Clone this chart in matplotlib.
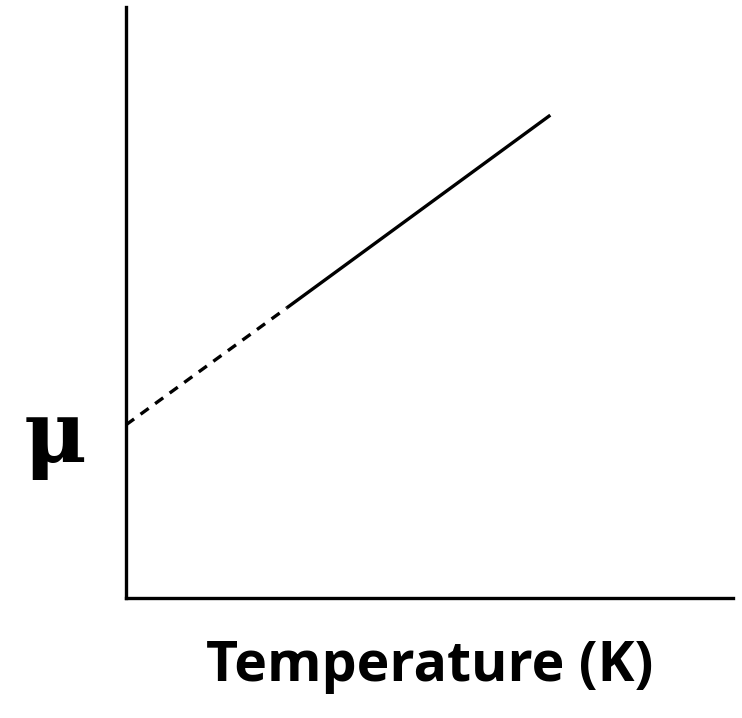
import matplotlib
matplotlib.use("Agg")
import matplotlib.pyplot as plt

# data (arbitrary units)
dashed_x = [0.0, 26.5]
dashed_y = [29.3, 49.1]
solid_x = [26.5, 69.9]
solid_y = [49.1, 81.7]
xlabel = "Temperature (K)"
ylabel = "\u03bc"

fig = plt.figure(figsize=(7.42, 7.18), dpi=100)
ax = fig.add_axes([126/742, 120/718, 607/742, 591/718])
ax.set_xlim(0, 100)
ax.set_ylim(0, 100)
ax.plot(dashed_x, dashed_y, color="black", lw=2.4, linestyle=(0, (3, 2.4)), solid_capstyle="butt", clip_on=False)
ax.plot(solid_x, solid_y, color="black", lw=2.4, solid_capstyle="butt")
for s in ["top", "right"]:
    ax.spines[s].set_visible(False)
for s in ["left", "bottom"]:
    ax.spines[s].set_linewidth(2.4)
ax.set_xticks([])
ax.set_yticks([])
fig.text(55/742, 1 - 438/718, ylabel, fontsize=62, fontweight="bold", family="DejaVu Serif",
         ha="center", va="center")
fig.text(430/742, 1 - 667/718, xlabel, fontsize=40, fontweight="bold", family="Open Sans",
         ha="center", va="center")
fig.savefig("out.png", dpi=100)
